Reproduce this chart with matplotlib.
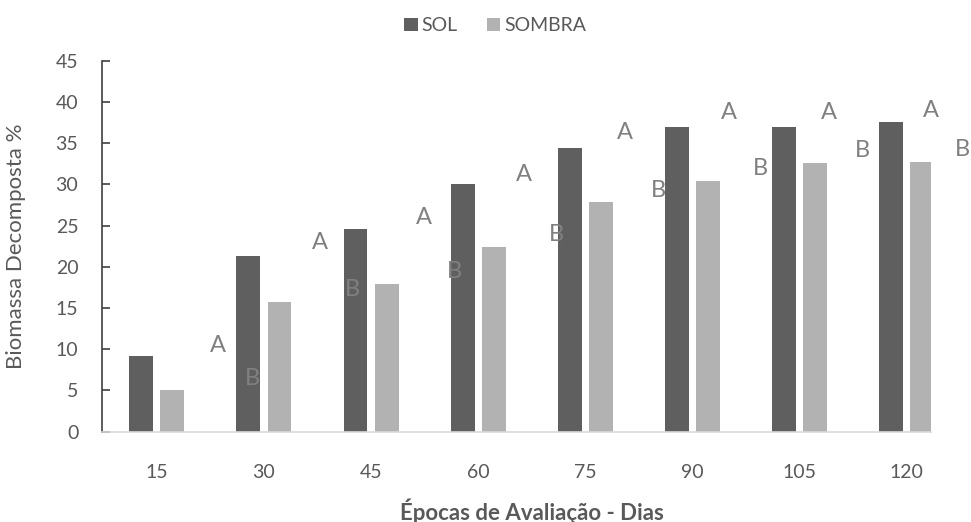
#!/usr/bin/env python3
"""Biomassa decomposta (%) por época de avaliação, SOL x SOMBRA."""
import matplotlib.pyplot as plt
import numpy as np

plt.rcParams["font.family"] = ["Lato", "DejaVu Sans"]

DIAS = ["15", "30", "45", "60", "75", "90", "105", "120"]
SOL = [9.2, 21.3, 24.6, 30.0, 34.4, 36.9, 37.0, 37.5]
SOMBRA = [5.1, 15.7, 17.9, 22.4, 27.9, 30.4, 32.6, 32.7]

# significance letters as they sit in the original (slightly drifting)
LETTER_A_X = [0.57, 1.52, 2.49, 3.43, 4.37, 5.34, 6.28, 7.23]
LETTER_A_Y = [10.4, 22.9, 26.0, 31.2, 36.3, 38.7, 38.7, 38.9]
LETTER_B_X = [0.89, 1.83, 2.78, 3.73, 4.69, 5.64, 6.59, 7.53]
LETTER_B_Y = [6.5, 17.2, 19.4, 23.9, 29.3, 31.9, 34.1, 34.2]

COLOR_SOL = "#5f5f5f"
COLOR_SOMBRA = "#b2b2b2"
TEXT = "#595959"
LETTER = "#808080"


def main():
    fig = plt.figure(figsize=(9.71, 5.22), dpi=100)
    ax = fig.add_axes([0.105, 0.173, 0.854, 0.711])

    x = np.arange(len(DIAS))
    w = 0.224
    off = 0.145
    ax.bar(x - off, SOL, w, color=COLOR_SOL, label="SOL", zorder=2)
    ax.bar(x + off, SOMBRA, w, color=COLOR_SOMBRA, label="SOMBRA", zorder=2)

    for lx, ly in zip(LETTER_A_X, LETTER_A_Y):
        ax.text(lx, ly, "A", ha="center", va="center", fontsize=17,
                color=LETTER, zorder=3, clip_on=False)
    for lx, ly in zip(LETTER_B_X, LETTER_B_Y):
        ax.text(lx, ly, "B", ha="center", va="center", fontsize=17,
                color=LETTER, zorder=3, clip_on=False)

    ax.set_xlim(-0.514, 7.234)
    ax.set_ylim(0, 45)
    ax.set_yticks(np.arange(0, 46, 5))
    ax.set_xticks(x)
    ax.set_xticklabels(DIAS)

    for s in ["top", "right"]:
        ax.spines[s].set_visible(False)
    ax.spines["left"].set_color("#404040")
    ax.spines["left"].set_linewidth(1.2)
    ax.spines["bottom"].set_color("#d9d9d9")
    ax.spines["bottom"].set_linewidth(1.2)

    ax.tick_params(axis="y", direction="in", length=6, width=1.2,
                   color="#404040", labelcolor=TEXT, labelsize=14, pad=17)
    ax.tick_params(axis="x", length=0, labelcolor=TEXT, labelsize=14, pad=23)

    ax.set_ylabel("Biomassa Decomposta %", fontsize=16, color=TEXT)
    ax.yaxis.set_label_coords(-0.092, 0.5)
    ax.set_xlabel("Épocas de Avaliação - Dias", fontsize=16, color=TEXT,
                  fontweight="bold")
    ax.xaxis.set_label_coords(0.519, -0.179)

    fig.legend(loc="upper center", bbox_to_anchor=(0.51, 1.0), ncol=2,
               frameon=False, fontsize=14, labelcolor=TEXT,
               handlelength=0.7, handleheight=0.7, handletextpad=0.2,
               columnspacing=1.5)

    fig.savefig("out.png", dpi=100)


if __name__ == "__main__":
    main()
